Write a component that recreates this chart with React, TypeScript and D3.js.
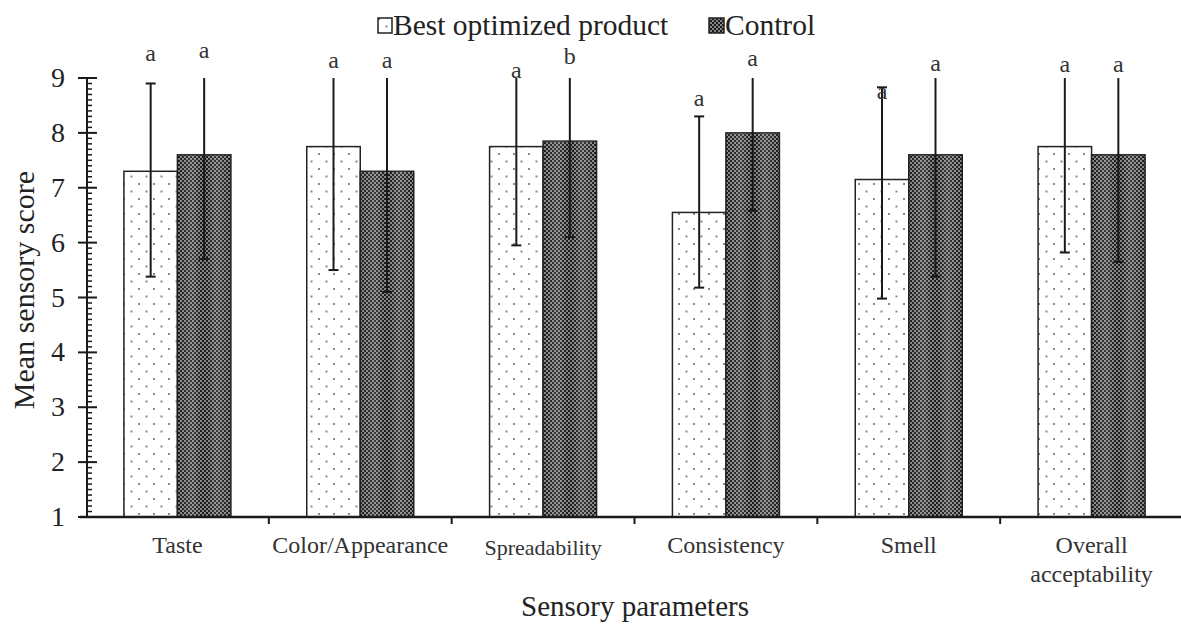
import React from 'react';
import * as d3 from 'd3';

const categories = ['Taste', 'Color/Appearance', 'Spreadability', 'Consistency', 'Smell', 'Overall acceptability'];
const seriesNames = ['Best optimized product', 'Control'];

const bestMean = [7.3, 7.75, 7.75, 6.55, 7.15, 7.75];
const bestLow = [5.38, 5.5, 5.95, 5.18, 4.98, 5.82];
const bestHigh = [8.9, 9, 9, 8.3, 8.83, 9];
const bestLetters = ['a', 'a', 'a', 'a', 'a', 'a'];
const bestLetterAt = [9.42, 9.29, 9.11, 8.6, 8.73, 9.22];

const controlMean = [7.6, 7.3, 7.85, 8.0, 7.6, 7.6];
const controlLow = [5.7, 5.1, 6.1, 6.58, 5.38, 5.65];
const controlHigh = [9, 9, 9, 9, 9, 9];
const controlLetters = ['a', 'a', 'b', 'a', 'a', 'a'];
const controlLetterAt = [9.47, 9.29, 9.36, 9.33, 9.24, 9.22];

const yTicks = [1, 2, 3, 4, 5, 6, 7, 8, 9];

const W = 1181, H = 628;
const font = '"Liberation Serif", "Times New Roman", serif';

export default function App() {
  const x = d3.scaleBand<string>().domain(categories).range([86, 1183]).paddingInner(0).paddingOuter(0);
  const y = d3.scaleLinear().domain([1, 9]).range([517, 78]);
  const barW = 53.5;
  const capW = 10;

  const series = [
    { mean: bestMean, low: bestLow, high: bestHigh, letters: bestLetters, at: bestLetterAt, fill: 'url(#dots)', off: -barW },
    { mean: controlMean, low: controlLow, high: controlHigh, letters: controlLetters, at: controlLetterAt, fill: 'url(#checker)', off: 0 },
  ];

  // minor ticks every 0.1
  const minor = d3.range(10, 91).map((v) => v / 10).filter((v) => Math.abs(v - Math.round(v)) > 0.01);

  return (
    <svg width={W} height={H} style={{ position: 'absolute', left: 0, top: 0, background: '#fff' }}>
      <defs>
        <pattern id="dots" patternUnits="userSpaceOnUse" width="15" height="15">
          <rect width="15" height="15" fill="#fff" />
          <rect x="3" y="3" width="2" height="2" fill="#8a8a8a" />
          <rect x="10.5" y="10.5" width="2" height="2" fill="#8a8a8a" />
        </pattern>
        <pattern id="checker" patternUnits="userSpaceOnUse" width="4" height="4">
          <rect width="4" height="4" fill="#1a1a1a" />
          <rect x="0" y="0" width="2" height="2" fill="#868686" />
          <rect x="2" y="2" width="2" height="2" fill="#868686" />
        </pattern>
        <linearGradient id="band" x1="0" x2="1" y1="0" y2="0">
          <stop offset="0" stopColor="#fff" stopOpacity="0" />
          <stop offset="0.28" stopColor="#fff" stopOpacity="0.15" />
          <stop offset="0.45" stopColor="#fff" stopOpacity="0" />
          <stop offset="0.55" stopColor="#fff" stopOpacity="0" />
          <stop offset="0.72" stopColor="#fff" stopOpacity="0.15" />
          <stop offset="1" stopColor="#fff" stopOpacity="0" />
        </linearGradient>
      </defs>

      {/* bars */}
      {categories.map((c, i) => {
        const cx = (x(c) as number) + x.bandwidth() / 2;
        return (
          <g key={c}>
            {series.map((s, k) => {
              const x0 = cx + s.off;
              const top = y(s.mean[i]);
              return (
                <g key={k}>
                  <rect x={x0} y={top} width={barW} height={y(1) - top} fill={s.fill} stroke="#222" strokeWidth={1.5} />
                  {k === 1 && <rect x={x0} y={top} width={barW} height={y(1) - top} fill="url(#band)" />}
                </g>
              );
            })}
          </g>
        );
      })}

      {/* error bars and letters */}
      {categories.map((c, i) => {
        const cx = (x(c) as number) + x.bandwidth() / 2;
        return (
          <g key={'e' + c}>
            {series.map((s, k) => {
              const ex = cx + s.off + barW / 2;
              const hi = Math.min(9, s.high[i]);
              return (
                <g key={k} stroke="#1a1a1a" strokeWidth={2}>
                  <line x1={ex} x2={ex} y1={y(hi)} y2={y(s.low[i])} />
                  {s.high[i] < 9 && <line x1={ex - capW / 2} x2={ex + capW / 2} y1={y(hi)} y2={y(hi)} />}
                  <line x1={ex - capW / 2} x2={ex + capW / 2} y1={y(s.low[i])} y2={y(s.low[i])} />
                  <text x={ex} y={y(s.at[i]) + 6} stroke="none" fill="#333" textAnchor="middle" fontFamily={font} fontSize={24}>
                    {s.letters[i]}
                  </text>
                </g>
              );
            })}
          </g>
        );
      })}

      {/* y axis */}
      <g stroke="#1a1a1a">
        <line x1={87} x2={87} y1={y(9)} y2={y(1)} strokeWidth={2} />
        {yTicks.map((t) => (
          <line key={t} x1={78} x2={97} y1={y(t)} y2={y(t)} strokeWidth={2} />
        ))}
        {minor.map((t) => (
          <line key={t} x1={87} x2={92} y1={y(t)} y2={y(t)} strokeWidth={1.5} />
        ))}
      </g>
      {yTicks.map((t) => (
        <text key={'l' + t} x={65} y={y(t) + 9} textAnchor="end" fontFamily={font} fontSize={28} fill="#222">
          {t}
        </text>
      ))}
      <text transform={`translate(34,290) rotate(-90)`} textAnchor="middle" fontFamily={font} fontSize={30} fill="#222">
        Mean sensory score
      </text>

      {/* x axis */}
      <g stroke="#1a1a1a">
        <line x1={80} x2={1181} y1={y(1)} y2={y(1)} strokeWidth={2.5} />
        {categories.slice(1).map((c) => (
          <line key={c} x1={x(c) as number} x2={x(c) as number} y1={y(1)} y2={y(1) + 7} strokeWidth={2} />
        ))}
      </g>
      {categories.map((c) => {
        const cx = (x(c) as number) + x.bandwidth() / 2;
        const parts = c === 'Overall acceptability' ? ['Overall', 'acceptability'] : [c];
        return (
          <text key={'x' + c} x={cx} y={553} textAnchor="middle" fontFamily={font} fontSize={c === 'Spreadability' ? 22 : 24} fill="#333">
            {parts.map((p, j) => (
              <tspan key={p} x={cx} dy={j === 0 ? (c === 'Spreadability' ? 2 : 0) : 29}>
                {p}
              </tspan>
            ))}
          </text>
        );
      })}
      <text x={635} y={616} textAnchor="middle" fontFamily={font} fontSize={29} fill="#222">
        Sensory parameters
      </text>

      {/* legend */}
      <g>
        <rect x={378} y={18} width={14} height={15} fill="url(#dots)" stroke="#222" strokeWidth={1.5} />
        <text x={393} y={35} fontFamily={font} fontSize={29.5} fill="#222">{seriesNames[0]}</text>
        <rect x={709} y={18} width={15} height={15} fill="url(#checker)" stroke="#222" strokeWidth={1.5} />
        <text x={725} y={35} fontFamily={font} fontSize={29.5} fill="#222">{seriesNames[1]}</text>
      </g>
    </svg>
  );
}
